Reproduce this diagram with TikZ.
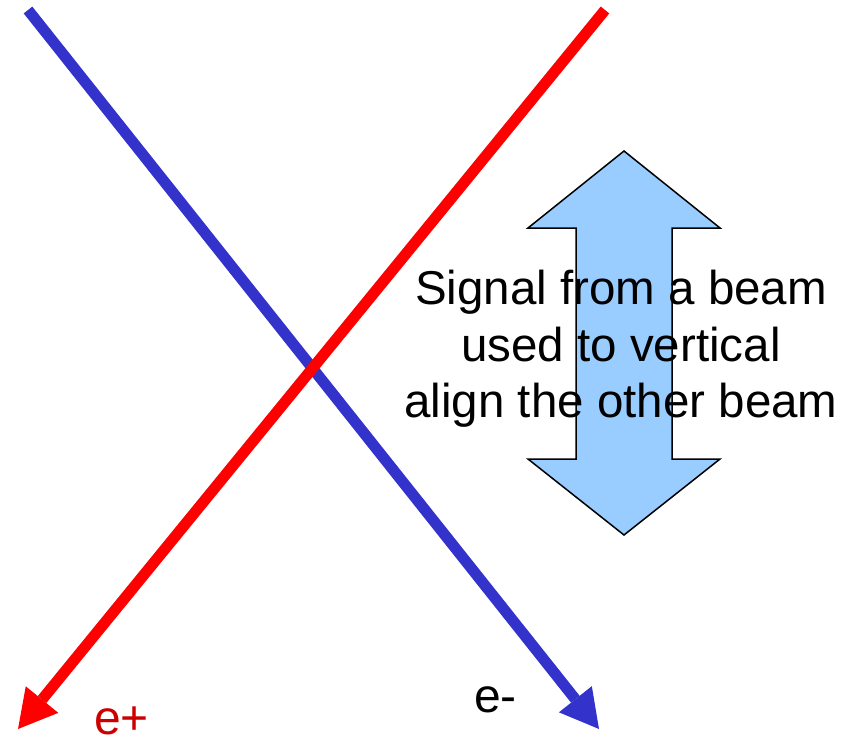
\documentclass[tikz,border=0pt]{standalone}
\usepackage{fontspec}
\setmainfont{Liberation Sans}
\usetikzlibrary{arrows.meta,positioning}
\definecolor{beamblue}{HTML}{3333CC}
\definecolor{beamred}{HTML}{FF0000}
\definecolor{labelred}{HTML}{CC0000}
\definecolor{arrowfill}{HTML}{99CCFF}

\begin{document}
\begin{tikzpicture}[x=1pt,y=-1pt,every node/.style={font=\fontsize{48}{56.5}\selectfont,inner sep=0pt},
    beam/.style={line width=11pt,-{Triangle[length=38pt,width=42pt,line width=0pt]}}]
      \useasboundingbox (0,0) rectangle (856,742);
      \coordinate (em start) at (28,10);
      \coordinate (em end) at (599,729);
      \coordinate (ep start) at (605,10);
      \coordinate (ep end) at (18,729);
      \draw[beam,beamblue] (em start)--(em end);
      \draw[beam,beamred] (ep start)--(ep end);
      \draw[fill=arrowfill,line width=1.5pt,line join=miter]
            (624,151)--(720,228)--(672,228)--(672,459)--(720,459)--(624,535)
            --(528,459)--(576,459)--(576,228)--(528,228)--cycle;
      \node[align=center,font=\fontsize{47.5}{56.5}\selectfont] (signal) at (621,349)
            {Signal from a beam\\used to vertical\\align the other beam};
      \node[labelred,anchor=base west,text depth=0pt] (ep label) at (94,734) {e+};
      \node[anchor=base west,text depth=0pt] (em label) at (474,712) {e-};
    \end{tikzpicture}
\end{document}
